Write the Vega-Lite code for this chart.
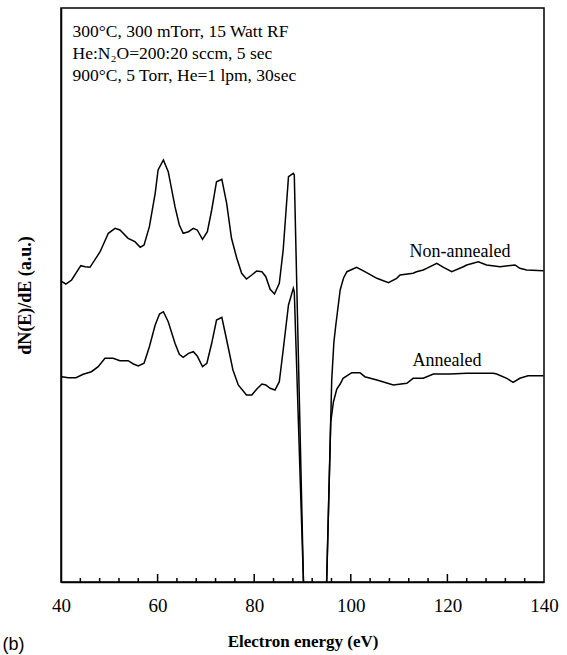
{
  "$schema": "https://vega.github.io/schema/vega-lite/v6.json",
  "autosize": "none",
  "padding": {"left": 61, "top": 8, "right": 23, "bottom": 73},
  "width": 483,
  "height": 574,
  "background": "white",
  "config": {
    "view": {"stroke": "black", "strokeWidth": 1.5},
    "font": "Liberation Serif",
    "axis": {
      "labelFont": "Liberation Serif",
      "titleFont": "Liberation Serif",
      "labelColor": "black",
      "titleColor": "black",
      "domainColor": "black",
      "tickColor": "black",
      "grid": false
    }
  },
  "datasets": {
    "curves": [
      {"series": "Non-annealed", "E": 40.2, "y": 300.3},
      {"series": "Non-annealed", "E": 41.0, "y": 298},
      {"series": "Non-annealed", "E": 42.2, "y": 302},
      {"series": "Non-annealed", "E": 44.1, "y": 316.3},
      {"series": "Non-annealed", "E": 45.0, "y": 315.3},
      {"series": "Non-annealed", "E": 46.0, "y": 314.7},
      {"series": "Non-annealed", "E": 48.1, "y": 330.3},
      {"series": "Non-annealed", "E": 49.8, "y": 348.7},
      {"series": "Non-annealed", "E": 51.2, "y": 353.7},
      {"series": "Non-annealed", "E": 52.2, "y": 352},
      {"series": "Non-annealed", "E": 53.9, "y": 343.7},
      {"series": "Non-annealed", "E": 55.3, "y": 340.3},
      {"series": "Non-annealed", "E": 56.4, "y": 334.7},
      {"series": "Non-annealed", "E": 57.2, "y": 337},
      {"series": "Non-annealed", "E": 58.3, "y": 355.3},
      {"series": "Non-annealed", "E": 59.5, "y": 388.7},
      {"series": "Non-annealed", "E": 60.1, "y": 412},
      {"series": "Non-annealed", "E": 61.2, "y": 422},
      {"series": "Non-annealed", "E": 62.2, "y": 410.3},
      {"series": "Non-annealed", "E": 63.6, "y": 375.3},
      {"series": "Non-annealed", "E": 64.5, "y": 357},
      {"series": "Non-annealed", "E": 65.3, "y": 348.7},
      {"series": "Non-annealed", "E": 66.4, "y": 350.3},
      {"series": "Non-annealed", "E": 67.4, "y": 353.7},
      {"series": "Non-annealed", "E": 68.2, "y": 352},
      {"series": "Non-annealed", "E": 69.3, "y": 342.7},
      {"series": "Non-annealed", "E": 70.3, "y": 350.3},
      {"series": "Non-annealed", "E": 71.2, "y": 372},
      {"series": "Non-annealed", "E": 72.2, "y": 400.3},
      {"series": "Non-annealed", "E": 73.3, "y": 402.7},
      {"series": "Non-annealed", "E": 74.3, "y": 378.7},
      {"series": "Non-annealed", "E": 75.3, "y": 343.7},
      {"series": "Non-annealed", "E": 76.4, "y": 323.7},
      {"series": "Non-annealed", "E": 77.4, "y": 308.7},
      {"series": "Non-annealed", "E": 78.4, "y": 303},
      {"series": "Non-annealed", "E": 79.5, "y": 307},
      {"series": "Non-annealed", "E": 80.5, "y": 311},
      {"series": "Non-annealed", "E": 81.6, "y": 310.3},
      {"series": "Non-annealed", "E": 82.4, "y": 305.3},
      {"series": "Non-annealed", "E": 83.3, "y": 292.7},
      {"series": "Non-annealed", "E": 84.2, "y": 288},
      {"series": "Non-annealed", "E": 85.2, "y": 298.7},
      {"series": "Non-annealed", "E": 86.0, "y": 332},
      {"series": "Non-annealed", "E": 87.1, "y": 405.3},
      {"series": "Non-annealed", "E": 88.1, "y": 408.7},
      {"series": "Non-annealed", "E": 88.3, "y": 407},
      {"series": "Non-annealed", "E": 90.2, "y": 0},
      {"series": "Non-annealed", "E": 92.46, "y": -486},
      {"series": "Non-annealed", "E": 95.0, "y": 0},
      {"series": "Non-annealed", "E": 96.05, "y": 202},
      {"series": "Non-annealed", "E": 96.5, "y": 240},
      {"series": "Non-annealed", "E": 96.9, "y": 257},
      {"series": "Non-annealed", "E": 97.8, "y": 292},
      {"series": "Non-annealed", "E": 98.5, "y": 304},
      {"series": "Non-annealed", "E": 99.2, "y": 310.3},
      {"series": "Non-annealed", "E": 101.2, "y": 314.7},
      {"series": "Non-annealed", "E": 102.9, "y": 310.3},
      {"series": "Non-annealed", "E": 105.4, "y": 303.7},
      {"series": "Non-annealed", "E": 107.8, "y": 299.3},
      {"series": "Non-annealed", "E": 109.5, "y": 303.7},
      {"series": "Non-annealed", "E": 110.2, "y": 307},
      {"series": "Non-annealed", "E": 112.9, "y": 308.7},
      {"series": "Non-annealed", "E": 113.6, "y": 310.3},
      {"series": "Non-annealed", "E": 115.0, "y": 312},
      {"series": "Non-annealed", "E": 115.7, "y": 313.7},
      {"series": "Non-annealed", "E": 117.8, "y": 318.7},
      {"series": "Non-annealed", "E": 119.2, "y": 314.7},
      {"series": "Non-annealed", "E": 120.9, "y": 310.3},
      {"series": "Non-annealed", "E": 123.3, "y": 315.3},
      {"series": "Non-annealed", "E": 124.0, "y": 317},
      {"series": "Non-annealed", "E": 126.4, "y": 320.3},
      {"series": "Non-annealed", "E": 128.1, "y": 317},
      {"series": "Non-annealed", "E": 130.9, "y": 315.3},
      {"series": "Non-annealed", "E": 134.0, "y": 317},
      {"series": "Non-annealed", "E": 135.0, "y": 313.7},
      {"series": "Non-annealed", "E": 136.4, "y": 312},
      {"series": "Non-annealed", "E": 139.9, "y": 311.3},

      {"series": "Annealed", "E": 40.2, "y": 205.3},
      {"series": "Annealed", "E": 41.5, "y": 204.3},
      {"series": "Annealed", "E": 43.1, "y": 204.3},
      {"series": "Annealed", "E": 44.6, "y": 207.7},
      {"series": "Annealed", "E": 46.3, "y": 210.3},
      {"series": "Annealed", "E": 47.7, "y": 215.3},
      {"series": "Annealed", "E": 49.1, "y": 223.7},
      {"series": "Annealed", "E": 50.8, "y": 223.7},
      {"series": "Annealed", "E": 52.2, "y": 221.3},
      {"series": "Annealed", "E": 53.9, "y": 221.3},
      {"series": "Annealed", "E": 55.0, "y": 218},
      {"series": "Annealed", "E": 56.0, "y": 216},
      {"series": "Annealed", "E": 57.2, "y": 218.7},
      {"series": "Annealed", "E": 58.3, "y": 235.3},
      {"series": "Annealed", "E": 59.5, "y": 257},
      {"series": "Annealed", "E": 60.4, "y": 268},
      {"series": "Annealed", "E": 61.2, "y": 270.3},
      {"series": "Annealed", "E": 62.2, "y": 260.3},
      {"series": "Annealed", "E": 63.6, "y": 238.7},
      {"series": "Annealed", "E": 64.5, "y": 227.7},
      {"series": "Annealed", "E": 65.3, "y": 224.7},
      {"series": "Annealed", "E": 66.4, "y": 228.7},
      {"series": "Annealed", "E": 67.4, "y": 230.3},
      {"series": "Annealed", "E": 68.2, "y": 226},
      {"series": "Annealed", "E": 69.3, "y": 215.3},
      {"series": "Annealed", "E": 70.2, "y": 218.7},
      {"series": "Annealed", "E": 71.2, "y": 238.7},
      {"series": "Annealed", "E": 72.2, "y": 262},
      {"series": "Annealed", "E": 73.3, "y": 264.7},
      {"series": "Annealed", "E": 74.3, "y": 242},
      {"series": "Annealed", "E": 75.6, "y": 212},
      {"series": "Annealed", "E": 76.7, "y": 197},
      {"series": "Annealed", "E": 78.4, "y": 187},
      {"series": "Annealed", "E": 79.5, "y": 187},
      {"series": "Annealed", "E": 80.5, "y": 192.7},
      {"series": "Annealed", "E": 81.6, "y": 198},
      {"series": "Annealed", "E": 82.4, "y": 197},
      {"series": "Annealed", "E": 83.3, "y": 193.7},
      {"series": "Annealed", "E": 84.3, "y": 192},
      {"series": "Annealed", "E": 85.2, "y": 200.3},
      {"series": "Annealed", "E": 86.0, "y": 232},
      {"series": "Annealed", "E": 87.1, "y": 277},
      {"series": "Annealed", "E": 88.1, "y": 293.7},
      {"series": "Annealed", "E": 88.3, "y": 290},
      {"series": "Annealed", "E": 90.2, "y": 0},
      {"series": "Annealed", "E": 92.46, "y": -486},
      {"series": "Annealed", "E": 95.0, "y": 0},
      {"series": "Annealed", "E": 95.85, "y": 160},
      {"series": "Annealed", "E": 96.4, "y": 180},
      {"series": "Annealed", "E": 97.1, "y": 193},
      {"series": "Annealed", "E": 97.8, "y": 198},
      {"series": "Annealed", "E": 98.4, "y": 203.7},
      {"series": "Annealed", "E": 100.2, "y": 209.3},
      {"series": "Annealed", "E": 101.9, "y": 209.3},
      {"series": "Annealed", "E": 102.9, "y": 205.3},
      {"series": "Annealed", "E": 105.4, "y": 202},
      {"series": "Annealed", "E": 108.8, "y": 197},
      {"series": "Annealed", "E": 111.6, "y": 198.7},
      {"series": "Annealed", "E": 112.9, "y": 203.7},
      {"series": "Annealed", "E": 115.0, "y": 203.7},
      {"series": "Annealed", "E": 117.1, "y": 208},
      {"series": "Annealed", "E": 120.5, "y": 208},
      {"series": "Annealed", "E": 124.0, "y": 208.7},
      {"series": "Annealed", "E": 129.5, "y": 208.7},
      {"series": "Annealed", "E": 130.2, "y": 208},
      {"series": "Annealed", "E": 132.3, "y": 203.7},
      {"series": "Annealed", "E": 133.6, "y": 199.7},
      {"series": "Annealed", "E": 135.0, "y": 203.7},
      {"series": "Annealed", "E": 136.7, "y": 206.3},
      {"series": "Annealed", "E": 139.9, "y": 206.3}
    ],
    "ticks": [
      {"E": 44, "base": 0, "len": 4}, {"E": 48, "base": 0, "len": 4}, {"E": 52, "base": 0, "len": 4}, {"E": 56, "base": 0, "len": 4},
      {"E": 60, "base": 0, "len": 8},
      {"E": 64, "base": 0, "len": 4}, {"E": 68, "base": 0, "len": 4}, {"E": 72, "base": 0, "len": 4}, {"E": 76, "base": 0, "len": 4},
      {"E": 80, "base": 0, "len": 8},
      {"E": 84, "base": 0, "len": 4}, {"E": 88, "base": 0, "len": 4}, {"E": 92, "base": 0, "len": 4}, {"E": 96, "base": 0, "len": 4},
      {"E": 100, "base": 0, "len": 8},
      {"E": 104, "base": 0, "len": 4}, {"E": 108, "base": 0, "len": 4}, {"E": 112, "base": 0, "len": 4}, {"E": 116, "base": 0, "len": 4},
      {"E": 120, "base": 0, "len": 8},
      {"E": 124, "base": 0, "len": 4}, {"E": 128, "base": 0, "len": 4}, {"E": 132, "base": 0, "len": 4}, {"E": 136, "base": 0, "len": 4}
    ],
    "labels": [
      {"E": 122.6, "y": 325, "text": "Non-annealed"},
      {"E": 119.9, "y": 216, "text": "Annealed"}
    ],
    "notes": [
      {"E": 42.4, "y": 545, "text": "300°C, 300 mTorr, 15 Watt RF"},
      {"E": 42.4, "y": 523, "text": "He:N₂O=200:20 sccm, 5 sec"},
      {"E": 42.4, "y": 501, "text": "900°C, 5 Torr, He=1 lpm, 30sec"}
    ],
    "panel": [
      {"E": 27.9, "y": -68, "text": "(b)"}
    ]
  },
  "encoding": {
    "x": {
      "field": "E", "type": "quantitative",
      "scale": {"domain": [40, 140], "nice": false, "zero": false},
      "axis": {
        "title": "Electron energy (eV)",
        "values": [40, 60, 80, 100, 120, 140],
        "ticks": false,
        "domainWidth": 1.5,
        "labelFont": "Liberation Serif",
        "labelFontSize": 19,
        "labelFlush": false,
        "labelOverlap": false,
        "labelPadding": 14,
        "titleFont": "Liberation Serif",
        "titleFontWeight": "bold",
        "titleFontSize": 17,
        "titlePadding": 18
      }
    },
    "y": {
      "field": "y", "type": "quantitative",
      "scale": {"domain": [0, 574], "nice": false, "zero": false},
      "axis": {
        "title": "dN(E)/dE (a.u.)",
        "labels": false,
        "ticks": false,
        "domainWidth": 1.5,
        "titleFontWeight": "bold",
        "titleFontSize": 18,
        "titlePadding": 27
      }
    }
  },
  "layer": [
    {
      "data": {"name": "ticks"},
      "mark": {"type": "rule", "color": "black", "strokeWidth": 1.5},
      "encoding": {
        "y": {"field": "base", "type": "quantitative"},
        "y2": {"field": "len"}
      }
    },
    {
      "data": {"name": "curves"},
      "mark": {"type": "line", "color": "black", "strokeWidth": 1.5, "clip": true},
      "encoding": {
        "detail": {"field": "series"}
      }
    },
    {
      "data": {"name": "labels"},
      "mark": {"type": "text", "font": "Liberation Serif", "fontSize": 18, "color": "black", "align": "center", "baseline": "alphabetic"},
      "encoding": {
        "text": {"field": "text"}
      }
    },
    {
      "data": {"name": "notes"},
      "mark": {"type": "text", "font": "Liberation Serif", "fontSize": 17.5, "color": "black", "align": "left", "baseline": "alphabetic"},
      "encoding": {
        "text": {"field": "text"}
      }
    },
    {
      "data": {"name": "panel"},
      "mark": {"type": "text", "font": "Liberation Sans", "fontSize": 18, "color": "black", "align": "left", "baseline": "alphabetic", "clip": false},
      "encoding": {
        "text": {"field": "text"}
      }
    }
  ]
}
